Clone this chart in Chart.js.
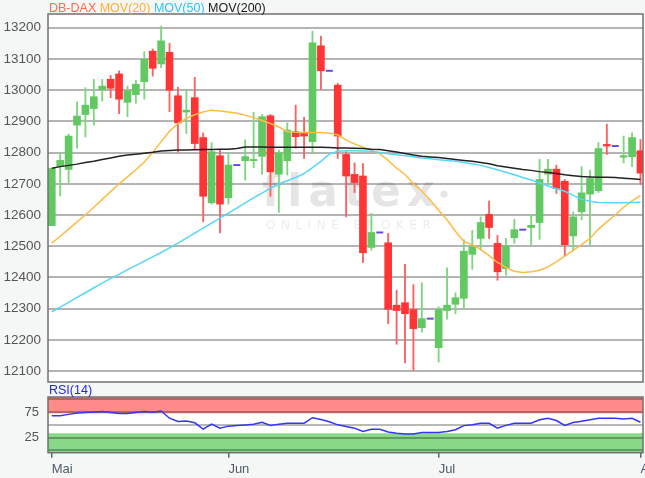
<!DOCTYPE html>
<html>
<head>
<meta charset="utf-8">
<script src="https://cdn.jsdelivr.net/npm/chart.js@4.4.0/dist/chart.umd.min.js"></script>
<style>
  html, body { margin: 0; padding: 0; background: #f5f7f7; }
  #wrap { position: relative; width: 645px; height: 478px; overflow: hidden; background: #f5f7f7; }
  #main { position: absolute; left: 0; top: 0; }
  #rsi { position: absolute; left: 0; top: 384px; }
</style>
</head>
<body>
<div id="wrap">
  <canvas id="main" width="670" height="384" style="width:670px;height:384px"></canvas>
  <canvas id="rsi" width="670" height="94" style="width:670px;height:94px"></canvas>
</div>
<script>
// DB-DAX Tageskerzen (Mai - Anfang Aug)
const opens = [12566,12756,12746,12888,12922,12941,13002,13035,13052,12961,
  12986,13027,13125,13084,13121,12982,12930,12976,12848,12639,
  12790,12655,12760,12774,12774,12788,12918,12731,12774,12867,
  12861,12835,13142,13062,13016,12794,12730,12725,12496,12544,
  12511,12311,12319,12297,12239,12268,12175,12294,12314,12333,
  12474,12525,12602,12509,12428,12527,12553,12560,12576,12731,
  12747,12708,12533,12610,12667,12678,12826,12821,12785,12787,
  12806];
const highs = [12750,12800,12859,12963,13008,13035,13035,13047,13062,13013,
  13032,13123,13132,13205,13150,13009,13002,13041,12863,12832,
  12809,12801,12760,12841,12929,12922,12922,12808,12895,12952,
  12913,13189,13173,13062,13022,12803,12767,12765,12605,12544,
  12541,12359,12442,12377,12383,12268,12306,12431,12351,12521,
  12551,12594,12645,12535,12525,12586,12553,12602,12778,12778,
  12760,12714,12610,12755,12744,12832,12891,12821,12853,12863,
  12842];
const lows = [12566,12661,12704,12814,12850,12888,12965,12976,12925,12915,
  12958,12971,13045,13072,12931,12801,12861,12812,12578,12635,
  12543,12635,12760,12712,12752,12730,12660,12608,12728,12814,
  12781,12796,13002,13062,12781,12594,12672,12448,12487,12544,
  12252,12186,12126,12102,12225,12268,12129,12266,12284,12300,
  12426,12487,12525,12391,12407,12509,12553,12505,12522,12701,
  12669,12468,12487,12585,12503,12672,12794,12821,12767,12755,
  12698];
const closes = [12749,12775,12853,12917,12952,12979,13013,13006,12971,12998,
  13019,13099,13070,13158,13000,12895,12936,12829,12660,12803,
  12635,12760,12760,12787,12778,12915,12738,12799,12872,12851,
  12853,13152,13062,13062,12853,12725,12704,12479,12544,12544,
  12298,12294,12284,12236,12268,12268,12297,12311,12335,12484,
  12498,12576,12560,12418,12501,12553,12553,12567,12714,12747,
  12685,12505,12594,12671,12717,12813,12821,12821,12790,12848,
  12734];

const mov20 = [12510,12532,12555,12578,12600,12625,12650,12675,12700,12722,
  12745,12770,12800,12835,12868,12893,12910,12921,12930,12936,
  12933,12930,12926,12920,12912,12903,12893,12882,12867,12865,
  12864,12864,12864,12862,12857,12840,12828,12817,12808,12796,
  12775,12750,12730,12700,12677,12648,12615,12585,12548,12515,
  12505,12490,12470,12448,12432,12420,12416,12418,12423,12434,
  12450,12468,12487,12505,12525,12555,12578,12600,12625,12645,
  12662];
const mov50 = [12290,12305,12320,12336,12351,12367,12382,12397,12410,12425,
  12438,12452,12466,12480,12495,12510,12526,12542,12558,12574,
  12590,12606,12622,12639,12655,12670,12686,12700,12710,12720,
  12733,12752,12772,12795,12804,12806,12806,12805,12804,12800,
  12796,12793,12790,12787,12783,12780,12777,12775,12772,12768,
  12764,12759,12752,12745,12737,12729,12720,12712,12703,12693,
  12684,12676,12663,12650,12644,12640,12639,12639,12639,12640,
  12641];
const mov200 = [12750,12755,12759,12763,12768,12772,12778,12783,12788,12792,
  12795,12798,12801,12805,12807,12808,12808,12809,12810,12810,
  12811,12811,12813,12818,12818,12818,12817,12817,12817,12817,
  12817,12817,12817,12816,12815,12815,12814,12813,12811,12810,
  12806,12802,12797,12792,12788,12786,12784,12781,12778,12775,
  12772,12768,12764,12758,12754,12750,12746,12743,12739,12736,
  12733,12729,12726,12723,12722,12721,12721,12720,12718,12716,
  12714];
const rsi14 = [67.7,67.7,70.5,73,74.2,75,76,74,72.3,72.3,
  74,76,74.5,77,63,56.5,57.5,54,41.5,51.4,
  43.5,47.5,48.7,49.8,51.2,55,48.7,51.4,53.3,53.3,
  53.3,64,60.3,56,50,46.7,43.5,37,41.5,41.5,
  36,33.5,32.3,32.3,34.9,34.9,35,37,40.5,48.5,
  50.3,53.3,53,43.5,49,53.3,53.3,53.3,59.8,63,
  58.5,48.7,54.6,57.2,59.8,63,63,63,61.5,63,
  55];

const priceTicks = [12100,12200,12300,12400,12500,12600,12700,12800,12900,13000,13100,13200];
const rsiTicks = [0,25,50,75,100];
const rsiLabelled = [25,75];
const rsiUpper = 72.5, rsiLower = 33.5;
const monthIdx = [0,21,46,70];
const monthLabels = ['Mai','Jun','Jul','Aug'];

const UP = '#62c862', DOWN = '#ff3434';
const UP_WICK = '#7ed67e', DOWN_WICK = '#ff6060';
const FONT = '"Liberation Sans", Arial, sans-serif';

const wickData = [], bodyData = [], dojiData = [], bodyColors = [], wickColors = [];
opens.forEach((o, i) => {
  const c = closes[i];
  if (o === c && highs[i] === lows[i]) {
    dojiData.push({ x: i, y: c });
    return;
  }
  wickData.push({ x: i, y: [lows[i], highs[i]] });
  wickColors.push(c >= o ? UP_WICK : DOWN_WICK);
  bodyData.push({ x: i, y: [o, c] });
  bodyColors.push(c >= o ? UP : DOWN);
});
const xy = arr => arr.map((v, i) => ({ x: i, y: v }));

const X_MIN = -0.45, X_MAX = 70.3;
// keine automatische Randpolsterung der Achsen
const noPad = s => { s.paddingTop = 0; s.paddingBottom = 0; s.paddingLeft = 0; s.paddingRight = 0; };

const panelBg = {
  id: 'panelBg',
  beforeDraw(chart, args, opts) {
    const { ctx, chartArea: a, width, height } = chart;
    ctx.save();
    ctx.fillStyle = '#f5f7f7';
    ctx.fillRect(0, 0, width, height);
    ctx.fillStyle = '#ffffff';
    ctx.fillRect(a.left, a.top, a.right - a.left, a.bottom - a.top);
    if (opts.bands) {
      const y = chart.scales.y;
      ctx.fillStyle = '#ff8a8a';
      ctx.fillRect(a.left, a.top, a.right - a.left, y.getPixelForValue(rsiUpper) - a.top);
      ctx.fillStyle = '#88d888';
      const gTop = y.getPixelForValue(rsiLower);
      ctx.fillRect(a.left, gTop, a.right - a.left, a.bottom - gTop);
    }
    ctx.restore();
  },
  afterDraw(chart, args, opts) {
    const { ctx, chartArea: a } = chart;
    ctx.save();
    ctx.strokeStyle = '#707070';
    ctx.lineWidth = 1.5;
    ctx.strokeRect(a.left, a.top, a.right - a.left, a.bottom - a.top);
    if (opts.title) {
      ctx.font = '12.5px ' + FONT;
      ctx.textBaseline = 'middle';
      let x = a.left + 1;
      opts.title.forEach(([txt, col]) => {
        ctx.fillStyle = col;
        ctx.fillText(txt, x, opts.titleY);
        x += ctx.measureText(txt).width;
      });
    }
    ctx.restore();
  }
};

const watermark = {
  id: 'watermark',
  beforeDatasetsDraw(chart) {
    const { ctx } = chart;
    ctx.save();
    ctx.fillStyle = 'rgba(0,0,0,0.10)';
    ctx.font = 'bold 44px "DejaVu Sans", sans-serif';
    ctx.letterSpacing = '6px';
    ctx.textBaseline = 'alphabetic';
    ctx.fillText('flatex', 262, 206);
    ctx.beginPath();
    ctx.arc(444, 194, 3.5, 0, Math.PI * 2);
    ctx.fill();
    ctx.fillStyle = 'rgba(0,0,0,0.08)';
    ctx.font = '12px "DejaVu Sans", sans-serif';
    ctx.letterSpacing = '5.5px';
    ctx.textBaseline = 'middle';
    ctx.fillText('ONLINE BROKER', 266, 226);
    ctx.restore();
  }
};

new Chart(document.getElementById('main'), {
  type: 'bar',
  data: {
    datasets: [
      { type: 'line', data: xy(mov200), borderColor: '#222222', borderWidth: 1.5, pointRadius: 0, order: 0 },
      { type: 'line', data: xy(mov50), borderColor: '#55d8f8', borderWidth: 1.5, pointRadius: 0, order: 0 },
      { type: 'line', data: xy(mov20), borderColor: '#ffbb44', borderWidth: 1.5, pointRadius: 0, order: 0 },
      { type: 'scatter', data: dojiData, pointStyle: 'line', pointRadius: 3.5, borderColor: '#6a4be0', borderWidth: 2, order: 1 },
      { data: bodyData, backgroundColor: bodyColors, barThickness: 7, grouped: false, borderWidth: 0, order: 2 },
      { data: wickData, backgroundColor: wickColors, barThickness: 1.2, grouped: false, borderWidth: 0, order: 3 }
    ]
  },
  options: {
    responsive: false,
    animation: false,
    layout: { autoPadding: false, padding: { top: 14, right: 27, bottom: 2, left: 0 } },
    plugins: {
      legend: { display: false },
      tooltip: { enabled: false },
      panelBg: {
        title: [['DB-DAX', '#ff6a4a'], [' MOV(20)', '#ffb02e'], [' MOV(50)', '#2ec4ee'], [' MOV(200)', '#1a1a1a']],
        titleY: 8.5
      }
    },
    scales: {
      x: { type: 'linear', min: X_MIN, max: X_MAX, offset: false, display: false },
      y: {
        min: 12065, max: 13244,
        afterBuildTicks: s => { s.ticks = priceTicks.map(v => ({ value: v })); },
        afterFit: s => { s.width = 48; noPad(s); },
        border: { display: false },
        grid: { color: '#b4b4b4', lineWidth: 2, drawTicks: false },
        ticks: { autoSkip: false, padding: 7, color: '#555555', font: { family: FONT, size: 13.5 }, callback: v => String(v) }
      }
    }
  },
  plugins: [panelBg, watermark]
});

new Chart(document.getElementById('rsi'), {
  type: 'line',
  data: {
    datasets: [
      { data: xy(rsi14), borderColor: '#3535f5', borderWidth: 1.5, pointRadius: 0 }
    ]
  },
  options: {
    responsive: false,
    animation: false,
    layout: { autoPadding: false, padding: { top: 13, right: 27, bottom: 0, left: 0 } },
    plugins: {
      legend: { display: false },
      tooltip: { enabled: false },
      panelBg: { bands: true, title: [['RSI(14)', '#2424ee']], titleY: 7 }
    },
    scales: {
      x: {
        type: 'linear', min: X_MIN, max: X_MAX, offset: false,
        afterBuildTicks: s => { s.ticks = monthIdx.map(v => ({ value: v })); },
        afterFit: s => { s.height = 25.3; noPad(s); },
        border: { display: false },
        grid: { drawOnChartArea: false, drawTicks: true, tickLength: 5, color: '#666666', lineWidth: 1.5 },
        ticks: {
          autoSkip: false, maxRotation: 0, align: 'start', padding: 4,
          color: '#4d5b6b', font: { family: FONT, size: 13 },
          callback: (v, i) => monthLabels[i]
        }
      },
      y: {
        min: -4.5, max: 104.5,
        afterBuildTicks: s => { s.ticks = rsiTicks.map(v => ({ value: v })); },
        afterFit: s => { s.width = 48; noPad(s); },
        border: { display: false },
        grid: { color: 'rgba(0,0,0,0.28)', lineWidth: 2, drawTicks: false },
        ticks: {
          autoSkip: false, padding: 9, color: '#555555', font: { family: FONT, size: 13 },
          callback: v => rsiLabelled.includes(v) ? String(v) : ''
        }
      }
    }
  },
  plugins: [panelBg]
});
</script>
</body>
</html>
